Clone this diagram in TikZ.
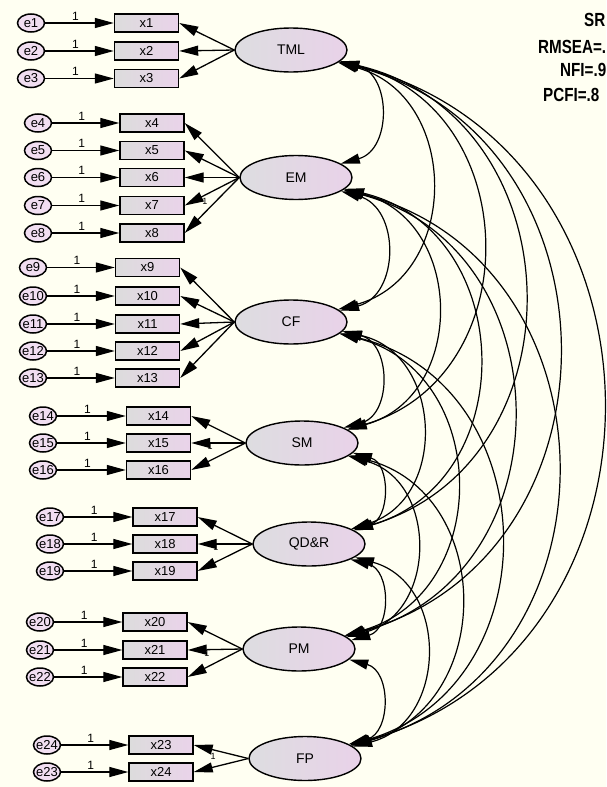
\documentclass[tikz,border=0pt]{standalone}
\usepackage{fontspec}
\setmainfont{Liberation Sans}
\usetikzlibrary{shapes.geometric,arrows.meta,positioning}
\definecolor{paper}{HTML}{FFFFF2}
\definecolor{boxl}{HTML}{DCDCDC}
\definecolor{boxr}{HTML}{EAD3EA}
\definecolor{errfill}{HTML}{F1DEF1}
\definecolor{latl}{HTML}{DDDDE0}
\definecolor{latr}{HTML}{E9D2E9}
\tikzset{>=latex}
\tikzset{
  amos/.tip = {Triangle[length=19pt,width=10pt]},
  obs/.style = {draw, line width=1.4pt, minimum width=64pt, minimum height=18pt,
                inner sep=0pt, left color=boxl, right color=boxr,
                font=\fontsize{13}{13}\selectfont},
  lat/.style = {ellipse, draw, line width=1.4pt, minimum width=112pt, minimum height=44pt,
                inner sep=0pt, left color=latl, right color=latr,
                font=\fontsize{14}{14}\selectfont},
  err/.style = {ellipse, draw, line width=1.5pt, minimum width=27pt, minimum height=18pt,
                inner sep=0pt, fill=errfill, font=\fontsize{13}{13}\selectfont},
  one/.style = {font=\fontsize{12}{12}\selectfont, inner sep=1pt},
  load/.style = {draw, line width=1.3pt, -amos},
  cov/.style = {draw, line width=1.2pt, amos-amos, bend left=75, looseness=1.32},
  fitidx/.style = {font=\bfseries\fontsize{19}{19}\selectfont, anchor=west, inner sep=0pt}
}

\begin{document}
\begin{tikzpicture}[x=1pt, y=-1pt]
  \useasboundingbox (0,0) rectangle (606,787);
  \fill[paper] (0,0) rectangle (606,787);

  % fit indices (cut at the right edge)
  \node[fitidx] (srmr) at (584,20) {\scalebox{0.8}[1]{SR}};
  \node[fitidx] (rmsea) at (538,47) {\scalebox{0.8}[1]{RMSEA=.}};
  \node[fitidx] (nfi) at (560,70) {\scalebox{0.8}[1]{NFI=.9}};
  \node[fitidx] (pcfi) at (543,95) {\scalebox{0.8}[1]{PCFI=.8}};

  % latent factors
  \node[lat] (TML) at (291,50) {TML};
  \node[lat] (EM) at (296,177.5) {EM};
  \node[lat] (CF) at (291,322) {CF};
  \node[lat] (SM) at (302,443) {SM};
  \node[lat] (QDR) at (309,544) {QD\&R};
  \node[lat] (PM) at (299,649) {PM};
  \node[lat] (FP) at (305,758.5) {FP};

  % fixed loadings, mostly under the arrow heads
  \node[one, font=\fontsize{9}{9}\selectfont] (w7) at (205,201) {1};
  \node[one, font=\fontsize{9}{9}\selectfont] (w15) at (210,446) {1};
  \node[one, font=\fontsize{9}{9}\selectfont] (w18) at (216,547) {1};
  \node[one, font=\fontsize{9}{9}\selectfont] (w21) at (207,653) {1};
  \node[one, font=\fontsize{9}{9}\selectfont] (w23) at (213,756) {1};

  % indicators with their errors
  \foreach \i/\e/\ex/\bx/\y/\f in {
      1/1/31/146.5/23/TML, 2/2/31/146.5/51/TML, 3/3/31/146.5/78.5/TML,
      4/4/38/152/123/EM, 5/5/38/152/150.5/EM, 6/6/38/152/177.5/EM,
      7/7/38/152/205.5/EM, 8/8/38/152/233/EM,
      9/9/33/147.5/267.5/CF, 10/10/33/147.5/296/CF, 11/11/33/147.5/324/CF,
      12/12/33/147.5/351/CF, 13/13/33/147.5/378/CF,
      14/14/43/158.5/416/SM, 15/15/43/158.5/443/SM, 16/16/43/158.5/470/SM,
      17/17/50/165/517/QDR, 18/18/50/165/544/QDR, 19/19/50/165/571/QDR,
      20/20/40/155/622/PM, 21/21/40/155/650/PM, 22/22/40/155/677/PM,
      23/24/47/161/745/FP, 24/23/47/161/772/FP} {
    \node[obs] (x\i) at (\bx,\y) {x\i};
    \node[err] (e\e) at (\ex,\y) {\makebox[0pt]{e\e}};
    \draw[load] (e\e) -- node[pos=0.44, above=1pt, one] {1} (x\i);
    \draw[load] (\f.west) -- (x\i.east);
  }

  % covariances
  \foreach \a/\b in {TML/EM, TML/CF, TML/SM, TML/QDR, TML/PM, TML/FP,
                     EM/CF, EM/SM, EM/QDR, EM/PM, EM/FP,
                     CF/SM, CF/QDR, CF/PM, CF/FP,
                     SM/QDR, SM/PM, SM/FP,
                     QDR/PM, QDR/FP, PM/FP}
    \draw[cov] (\a) to (\b);
\end{tikzpicture}
\end{document}
